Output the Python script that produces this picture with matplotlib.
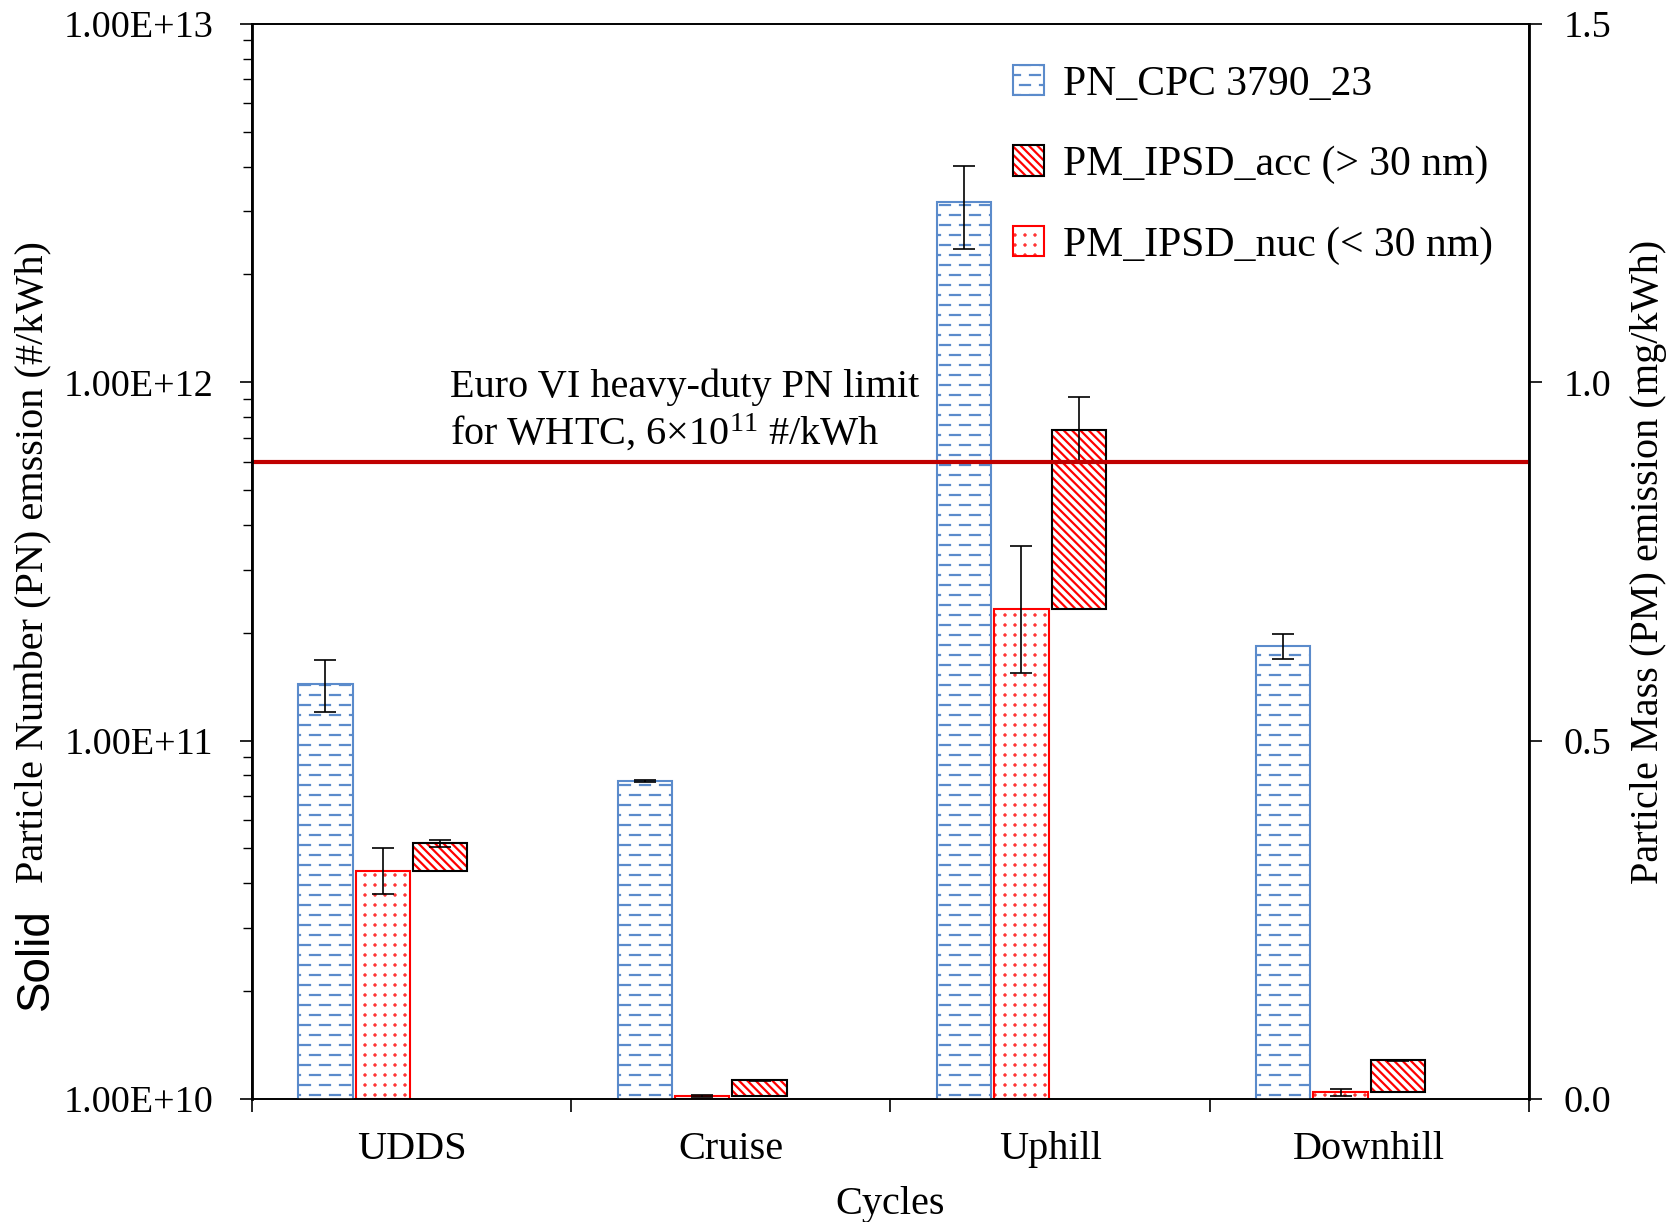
import numpy as np
import matplotlib
matplotlib.use('Agg')
import matplotlib.pyplot as plt
import matplotlib.hatch as mhatch
from matplotlib.path import Path
from matplotlib.patches import Patch
from matplotlib.ticker import LogLocator, NullFormatter

# Emission data per driving cycle
ciclos = ['UDDS', 'Cruise', 'Uphill', 'Downhill']
pn_cpc = [1.44e11, 7.7e10, 3.19e12, 1.84e11]        # #/kWh
pn_cpc_err = [2.4e10, 4e8, 8.3e11, 1.5e10]
pm_nuc = [0.318, 0.004, 0.683, 0.009]                # mg/kWh
pm_nuc_err = [0.032, 0.001, 0.088, 0.0046]
pm_acc = [0.039, 0.022, 0.251, 0.045]                # mg/kWh, stacked over nuc
pm_acc_err = [0.005, 0.001, 0.045, 0.001]
limite_pn = 6e11


# dashed horizontal hatch (staggered rows of short dashes)
class DashedHorizontalHatch(mhatch.HorizontalHatch):
    def __init__(self, hatch, density):
        self.num_rows = 10 * (hatch.count('-') + hatch.count('+'))
        self.num_dashes = 6
        self.num_lines = self.num_rows * self.num_dashes
        self.num_vertices = self.num_lines * 2

    def set_vertices_and_codes(self, vertices, codes):
        ys = (np.arange(self.num_rows) + 0.5) / self.num_rows
        xs = np.arange(self.num_dashes) * 0.2 - 0.1
        xx, yy = np.meshgrid(xs, ys)
        xx = xx + 0.1 * (np.arange(self.num_rows) % 2)[:, None]
        xx = xx.ravel()
        yy = yy.ravel()
        vertices[0::2, 0] = xx
        vertices[0::2, 1] = yy
        vertices[1::2, 0] = xx + 0.1
        vertices[1::2, 1] = yy
        codes[0::2] = Path.MOVETO
        codes[1::2] = Path.LINETO


# small dots on a square grid
class GridDots(mhatch.HatchPatternBase):
    def __init__(self, hatch, density):
        self.n = 10 * hatch.count('.')
        circ = Path.unit_circle()
        self.circ_v = circ.vertices
        self.circ_c = circ.codes
        self.num_vertices = self.n * self.n * len(circ.vertices)

    def set_vertices_and_codes(self, vertices, codes):
        r = 0.005
        centros = (np.arange(self.n) + 0.5) / self.n
        k = len(self.circ_v)
        i = 0
        for cx in centros:
            for cy in centros:
                vertices[i:i + k] = self.circ_v * r + (cx, cy)
                codes[i:i + k] = self.circ_c
                i += k


tipos = mhatch._hatch_types
tipos[tipos.index(mhatch.HorizontalHatch)] = DashedHorizontalHatch
tipos[tipos.index(mhatch.SmallFilledCircles)] = GridDots

plt.rcParams['font.family'] = ['Liberation Serif', 'DejaVu Serif']
plt.rcParams['mathtext.fontset'] = 'custom'
plt.rcParams['mathtext.rm'] = 'Liberation Serif'
plt.rcParams['mathtext.default'] = 'regular'
plt.rcParams['hatch.linewidth'] = 1.6

azul = '#5B8BCB'
vermelho = '#FF0000'
fs = 29
fs_ticks = 27.5

fig = plt.figure(figsize=(16.8, 12.22), dpi=100)
ax = fig.add_axes([0.15, 0.1007, 0.7601, 0.8797])
ax2 = ax.twinx()
ax.set_zorder(2)
ax.patch.set_visible(False)

x = np.arange(len(ciclos))
w = 0.17
h_diag = '\\\\\\\\'

# PN bars on the log axis
ax.bar(x - 0.27, pn_cpc, w, facecolor='white', edgecolor=azul, linewidth=1.5, hatch='-')
ax.errorbar(x - 0.27, pn_cpc, yerr=pn_cpc_err, fmt='none', ecolor='black',
            elinewidth=1.2, capsize=8, capthick=1.2)

# PM bars on the linear axis
ax2.bar(x - 0.09, pm_nuc, w, facecolor='white', edgecolor=vermelho, linewidth=1.5, hatch='.')
ax2.errorbar(x - 0.09, pm_nuc, yerr=pm_nuc_err, fmt='none', ecolor='black',
             elinewidth=1.2, capsize=8, capthick=1.2)
ax2.bar(x + 0.09, pm_acc, w, bottom=pm_nuc, facecolor='white', edgecolor=vermelho,
        linewidth=0, hatch=h_diag)
ax2.bar(x + 0.09, pm_acc, w, bottom=pm_nuc, facecolor='none', edgecolor='black', linewidth=1.5)
topo_acc = np.array(pm_nuc) + np.array(pm_acc)
ax2.errorbar(x + 0.09, topo_acc, yerr=pm_acc_err, fmt='none', ecolor='black',
             elinewidth=1.2, capsize=8, capthick=1.2)

# Euro VI limit
ax.axhline(limite_pn, color='#C00000', linewidth=3)
ax.text(0.155, 0.645, 'Euro VI heavy-duty PN limit', transform=ax.transAxes,
        fontsize=fs, va='bottom', ha='left')
ax.text(0.155, 0.600, 'for WHTC, 6×$10^{11}$ #/kWh', transform=ax.transAxes,
        fontsize=fs, va='bottom', ha='left')

# axes
ax.set_yscale('log')
ax.set_ylim(1e10, 1e13)
ax.set_xlim(-0.5, 3.5)
ax2.set_ylim(0, 1.5)
ax.set_yticks([1e10, 1e11, 1e12, 1e13], ['1.00E+10', '1.00E+11', '1.00E+12', '1.00E+13'])
ax.yaxis.set_minor_locator(LogLocator(base=10, subs=np.arange(2, 10)))
ax.yaxis.set_minor_formatter(NullFormatter())
ax2.set_yticks([0, 0.5, 1.0, 1.5], ['0.0', '0.5', '1.0', '1.5'])

ax.set_xticks(x, ciclos)
ax.set_xticks(np.arange(-0.5, 4, 1), minor=True)
ax.tick_params(axis='x', which='major', length=0, pad=23, labelsize=fs)
ax.tick_params(axis='x', which='minor', length=9, width=1.2, direction='out')
ax.tick_params(axis='y', which='major', length=9, width=1.2, pad=19, labelsize=fs_ticks)
ax.tick_params(axis='y', which='minor', length=6.5, width=1)
ax2.tick_params(axis='y', which='major', length=9, width=1.2, pad=16, labelsize=fs_ticks)

for a in (ax, ax2):
    for s in a.spines.values():
        s.set_linewidth(1.2)
ax.spines['left'].set_linewidth(2)
ax2.spines['right'].set_linewidth(2)

# labels
fig.text(0.020, 0.540, 'Particle Number (PN) emssion (#/kWh)', rotation=90,
         ha='center', va='center', fontsize=fs)
fig.text(0.0215, 0.215, 'Solid', rotation=90, ha='center', va='center',
         fontsize=33, family=['Liberation Sans', 'DejaVu Sans'])
fig.text(0.981, 0.540, 'Particle Mass (PM) emission (mg/kWh)', rotation=90,
         ha='center', va='center', fontsize=fs)
fig.text(0.53, 0.014, 'Cycles', ha='center', va='center', fontsize=fs)

# legend
h_cpc = Patch(facecolor='white', edgecolor=azul, linewidth=1.5, hatch='-')
h_acc = (Patch(facecolor='white', edgecolor=vermelho, linewidth=0, hatch=h_diag),
         Patch(facecolor='none', edgecolor='black', linewidth=1.5))
h_nuc = Patch(facecolor='white', edgecolor=vermelho, linewidth=1.5, hatch='.')
ax.legend([h_cpc, h_acc, h_nuc],
          ['PN_CPC 3790_23', 'PM_IPSD_acc (> 30 nm)', 'PM_IPSD_nuc (< 30 nm)'],
          loc='upper left', bbox_to_anchor=(0.596, 0.962), frameon=False,
          fontsize=30, handlelength=0.75, handleheight=0.75, handletextpad=0.45,
          labelspacing=1.0, borderaxespad=0, borderpad=0)

fig.savefig('out.png', dpi=100)
